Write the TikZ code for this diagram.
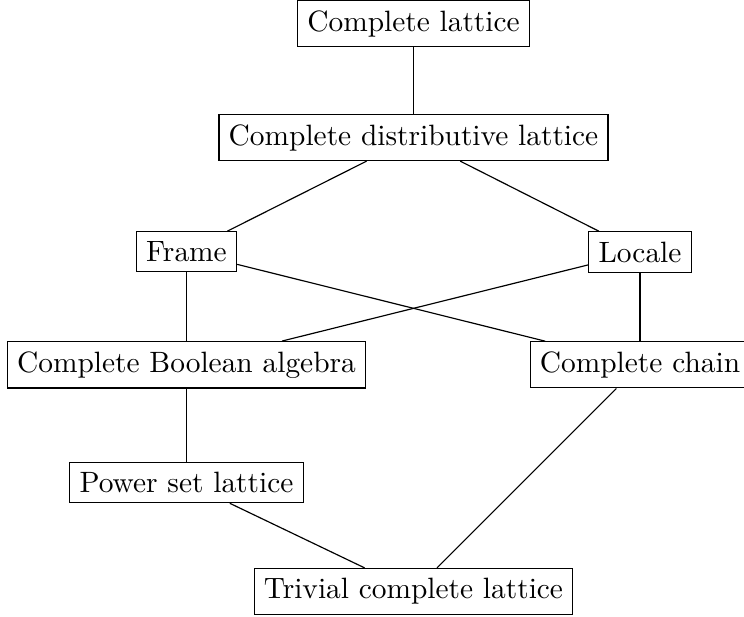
\documentclass[tikz,border=0pt]{standalone}
\begin{document}
\begin{tikzpicture}[x=0.34pt,y=-0.34pt,
  box/.style={draw,line width=0.4pt,inner sep=3.333pt},
  conn/.style={line width=0.4pt}]
\useasboundingbox (0,0) rectangle (744,616);
\node[box] (cl) at (413.5,23.7) {Complete lattice};
\node[box] (cdl) at (413.5,137.5) {Complete distributive lattice};
\node[box] (fr) at (186.5,251.7) {Frame};
\node[box] (lo) at (640,252) {Locale};
\node[box] (cba) at (186.5,364.8) {Complete Boolean algebra};
\node[box] (cc) at (640,364.8) {Complete chain};
\node[box] (ps) at (186.5,482.5) {Power set lattice};
\node[box] (tr) at (413.5,591.3) {Trivial complete lattice};
\draw[conn] (cl) -- (cdl);
\draw[conn] (cdl) -- (fr);
\draw[conn] (cdl) -- (lo);
\draw[conn] (fr) -- (cba);
\draw[conn] (fr) -- (cc);
\draw[conn] (lo) -- (cba);
\draw[conn] (lo) -- (cc);
\draw[conn] (cba) -- (ps);
\draw[conn] (ps) -- (tr);
\draw[conn] (cc) -- (tr);
\end{tikzpicture}
\end{document}
